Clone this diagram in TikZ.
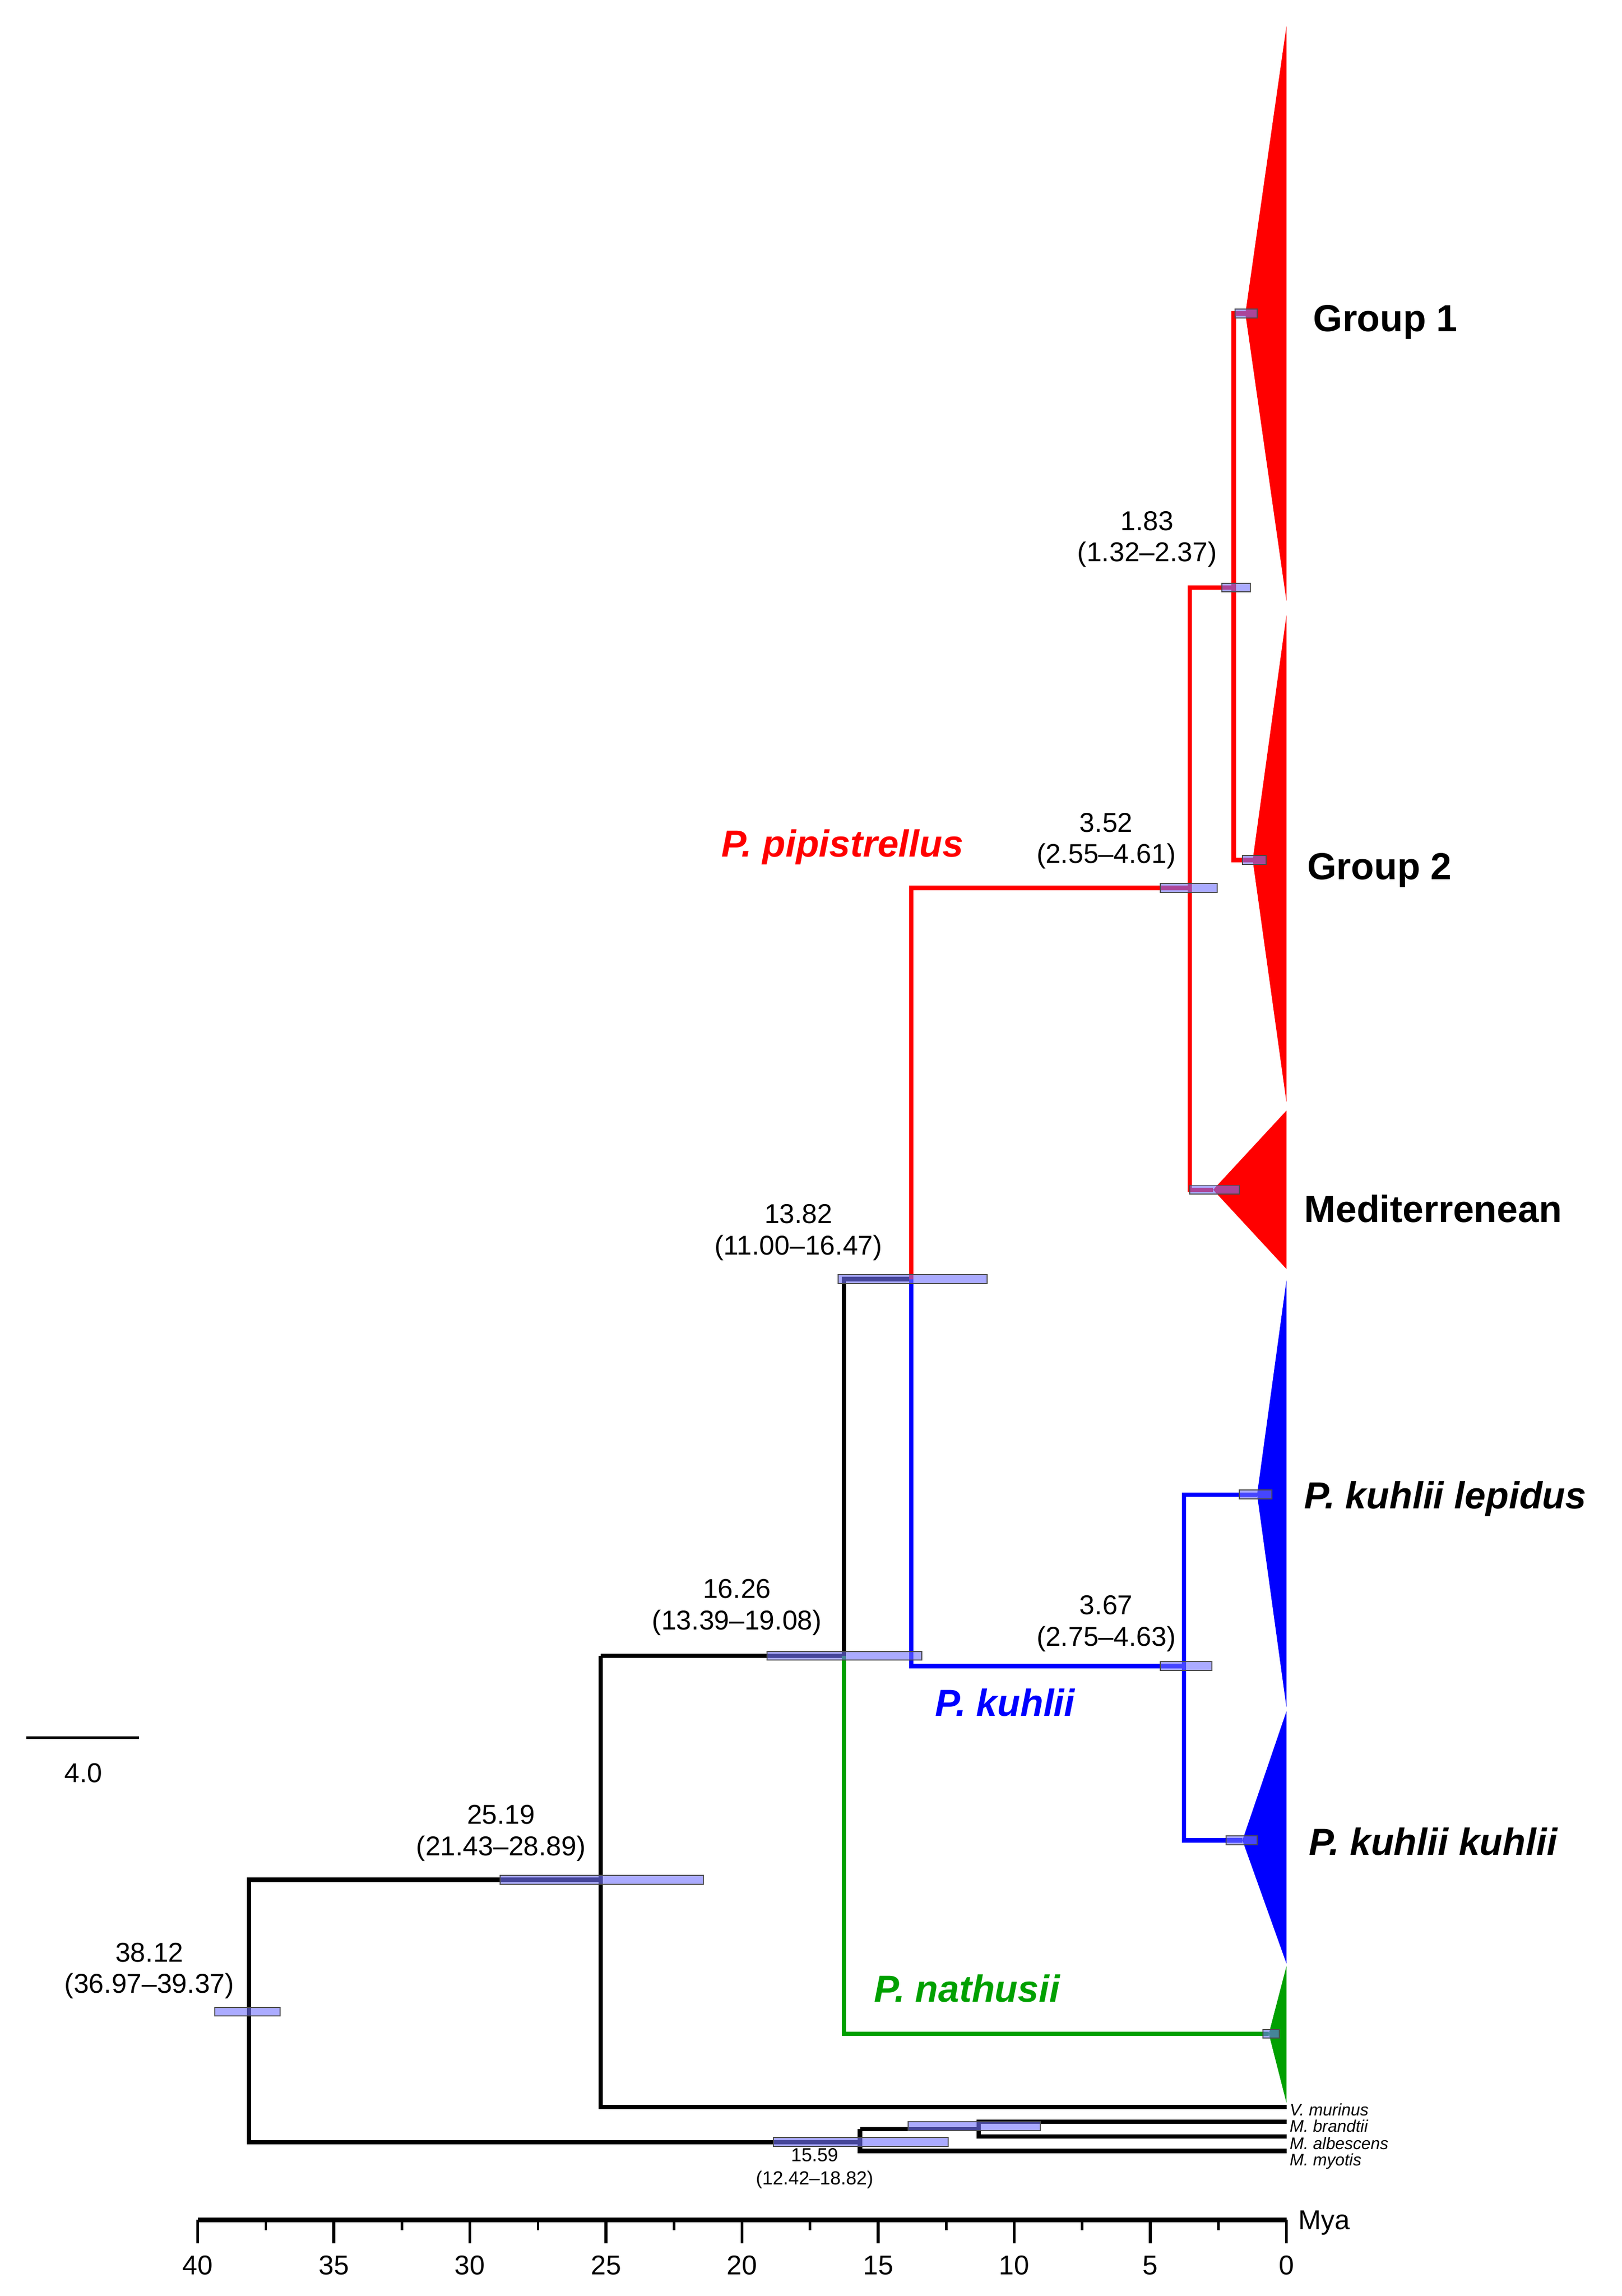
\documentclass[tikz,border=0pt]{standalone}
\usepackage{fontspec}
\setmainfont{Liberation Sans}
\begin{document}
\begin{tikzpicture}[x=0.7pt,y=-0.7pt,
  br/.style={line width=2.1pt},
  hpd/.style={fill=blue!55!white,fill opacity=0.6,draw=black!70,line width=0.5pt},
  num/.style={font=\fontsize{13}{15}\selectfont,align=center,inner sep=0pt},
  grp/.style={font=\fontsize{18}{21}\selectfont\bfseries,anchor=west,inner sep=0pt},
  sp/.style={font=\fontsize{18}{21}\selectfont\bfseries\itshape,inner sep=0pt},
  tax/.style={font=\fontsize{8}{9}\selectfont\itshape,anchor=west,inner sep=0pt},
  ax/.style={font=\fontsize{13}{15}\selectfont,inner sep=0pt}]
\useasboundingbox (0,0) rectangle (1107,1567);
\definecolor{gr}{RGB}{0,160,0}
% triangles (collapsed clades)
\fill[red] (850,214) -- (878,18) -- (878,410) -- cycle;
\fill[red] (855,587) -- (878,420) -- (878,752) -- cycle;
\fill[red] (828,812) -- (878,758) -- (878,866) -- cycle;
\fill[blue] (858,1020) -- (878,874) -- (878,1165) -- cycle;
\fill[blue] (848,1256) -- (878,1168) -- (878,1340) -- cycle;
\fill[gr] (866,1388) -- (878,1342) -- (878,1435) -- cycle;
% internal nodes
\coordinate (n38) at (170,1373);
\coordinate (n25) at (410,1283);
\coordinate (n16) at (576,1130);
\coordinate (n13) at (622,873);
\coordinate (n35) at (812,606);
\coordinate (n18) at (842,401);
\coordinate (n36) at (808,1137);
\coordinate (nm1) at (587,1462);
\coordinate (nm2) at (668,1453);
% black branches
\draw[br] (n25 |- 0,1283) -- (170,1283) -- (170,1462) -- (nm1);
\draw[br] (410,1130) -- (410,1438) -- (878,1438);
\draw[br] (n16) -- (576,873) -- (622,873);
\draw[br] (nm1 |- 0,1453) -- (587,1468) -- (878,1468);
\draw[br] (587,1453) -- (nm2);
\draw[br] (878,1448) -- (668,1448) -- (668,1458) -- (878,1458);
\draw[br] (n16) -- (410,1130);
% green
\draw[br,gr] (n16) -- (576,1388) -- (866,1388);
% red
\draw[br,red] (n13) -- (622,606) -- (n35);
\draw[br,red] (812,401) -- (812,812) -- (828,812);
\draw[br,red] (n35) -- (812,401) -- (n18);
\draw[br,red] (850,214) -- (842,214) -- (842,587) -- (855,587);
% blue
\draw[br,blue] (n13) -- (622,1137) -- (n36);
\draw[br,blue] (858,1020) -- (808,1020) -- (808,1256) -- (848,1256);
% HPD bars
\foreach \a/\b/\y in {146.7/191.3/1373, 341.4/480/1283, 523.6/629/1130, 572/673.7/873,
  792/830.6/606, 834/853.5/401, 843/858/214, 848/864/587, 812/846/812, 792/827/1137,
  846/868/1020, 837/858/1256, 862/873/1388, 528/647/1462, 620/710/1451}
  \draw[hpd] (\a,\y-3) rectangle (\b,\y+3);
% node labels
\node[num] (l38) at (102,1345) {38.12\\(36.97--39.37)};
\node[num] (l25) at (342,1251) {25.19\\(21.43--28.89)};
\node[num] (l16) at (503,1097) {16.26\\(13.39--19.08)};
\node[num] (l13) at (545,841) {13.82\\(11.00--16.47)};
\node[num] (l35) at (755,574) {3.52\\(2.55--4.61)};
\node[num] (l18) at (783,368) {1.83\\(1.32--2.37)};
\node[num] (l36) at (755,1108) {3.67\\(2.75--4.63)};
\node[num,font=\fontsize{9}{11}\selectfont] (l15) at (556,1480) {15.59\\(12.42--18.82)};
% clade labels
\node[grp] (g1) at (896,220) {Group 1};
\node[grp] (g2) at (892,594) {Group 2};
\node[grp] (gm) at (890,825) {Mediterrenean};
\node[sp,anchor=west] (kl) at (890,1023) {P. kuhlii lepidus};
\node[sp,anchor=west] (kk) at (893,1257) {P. kuhlii kuhlii};
\node[sp,red] (pp) at (575,578) {P. pipistrellus};
\node[sp,blue] (pk) at (686,1162) {P. kuhlii};
\node[sp,gr] (pn) at (660,1357) {P. nathusii};
\node[tax] (t1) at (880,1440) {V. murinus};
\node[tax] (t2) at (880,1451) {M. brandtii};
\node[tax] (t3) at (880,1463) {M. albescens};
\node[tax] (t4) at (880,1475) {M. myotis};
% scale bar
\draw[line width=1.2pt] (18,1186) -- (95,1186);
\node[ax] (sb) at (57,1210) {4.0};
% axis
\draw[line width=2.1pt] (135,1515) -- (878,1515);
\foreach \t in {0,5,...,40} {
  \draw[line width=1.4pt] ({878-18.575*\t},1515) -- ({878-18.575*\t},1531);
  \node[ax] at ({878-18.575*\t},1546) {\t};
}
\foreach \t in {2.5,7.5,...,37.5}
  \draw[line width=1.2pt] ({878-18.575*\t},1515) -- ({878-18.575*\t},1522);
\node[ax,anchor=west] (mya) at (886,1517) {Mya};
\end{tikzpicture}
\end{document}
